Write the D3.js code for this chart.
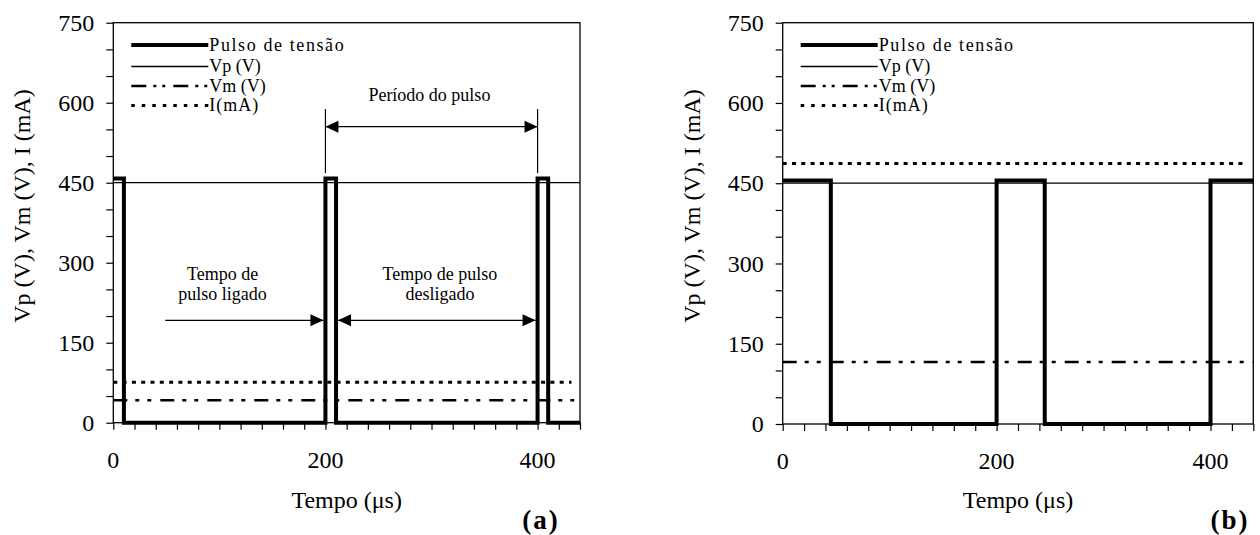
<!DOCTYPE html>
<html>
<head>
<meta charset="utf-8">
<script src="https://cdn.jsdelivr.net/npm/d3@7"></script>
<style>
  body { margin: 0; background: #fff; }
  svg { display: block; }
  text { font-family: "Liberation Serif", "Times New Roman", serif; fill: #000; }
</style>
</head>
<body>
<div id="chart"></div>
<script>
// pulse waveforms (time in us, voltage in V)
const timeA  = [0, 10, 10, 200, 200, 210, 210, 400, 400, 410, 410, 440];
const pulseA = [458, 458, 0, 0, 458, 458, 0, 0, 458, 458, 0, 0];
const timeB  = [0, 45, 45, 200, 200, 245, 245, 400, 400, 440];
const pulseB = [455, 455, 0, 0, 455, 455, 0, 0, 455, 455];

// constant measured levels
const levelTime = [0, 440];
const curTime = [0, 432];
const vpA = [450, 450];
const vmA = [42, 42];
const iA  = [76, 76];
const vpB = [450, 450];
const vmB = [116, 116];
const iB  = [487, 487];

const xTicks = [0, 200, 400];
const yTicks = [0, 150, 300, 450, 600, 750];
const legendLabels = ["Pulso de tensão", "Vp (V)", "Vm (V)", "I(mA)"];

const W = 1260, H = 535;
const svg = d3.select("#chart").append("svg").attr("width", W).attr("height", H);

// line styles: pulse, Vp, Vm, I
const styles = [
  { w: 4, dash: null },
  { w: 1.3, dash: null },
  { w: 2.5, dash: "14,8,4,8,4,9" },
  { w: 3, dash: "4,5.3" }
];

function drawPanel(p) {
  const x = d3.scaleLinear().domain([0, 440]).range([p.left, p.right]);
  const y = d3.scaleLinear().domain([0, 750]).range([p.bottom, p.top]);
  const g = svg.append("g");

  // minor ticks
  g.append("g").attr("transform", `translate(0,${p.bottom})`)
    .call(d3.axisBottom(x).tickValues(d3.range(0, 441, 20)).tickSize(7).tickFormat(""))
    .call(a => a.select(".domain").remove());
  g.append("g").attr("transform", `translate(${p.left},0)`)
    .call(d3.axisLeft(y).tickValues(d3.range(0, 751, 50)).tickSize(7).tickFormat(""))
    .call(a => a.select(".domain").remove());
  g.selectAll(".tick line").attr("stroke", "#000").attr("stroke-width", 1.2);

  // tick labels
  g.selectAll(".xl").data(xTicks).join("text")
    .attr("x", d => x(d)).attr("y", p.bottom + 45)
    .attr("text-anchor", "middle").attr("font-size", 24).text(d => d);
  g.selectAll(".yl").data(yTicks).join("text")
    .attr("x", p.left - 19).attr("y", d => y(d)).attr("dy", "0.34em")
    .attr("text-anchor", "end").attr("font-size", 24).text(d => d);

  // frame
  g.append("rect").attr("x", p.left).attr("y", p.top)
    .attr("width", p.right - p.left).attr("height", p.bottom - p.top)
    .attr("fill", "none").attr("stroke", "#000").attr("stroke-width", 1.3);

  const line = d3.line().x(d => x(d[0])).y(d => y(d[1]));
  const series = [
    d3.zip(p.time, p.pulse),
    d3.zip(levelTime, p.vp),
    d3.zip(levelTime, p.vm),
    d3.zip(curTime, p.cur)
  ];
  // draw levels first, pulse on top
  [3, 2, 1, 0].forEach(i => {
    g.append("path").attr("d", line(series[i]))
      .attr("fill", "none").attr("stroke", "#000")
      .attr("stroke-width", styles[i].w)
      .attr("stroke-dasharray", styles[i].dash)
      .attr("stroke-linejoin", "miter");
  });

  // legend
  const legY = [45, 66.5, 86, 105.5];
  legendLabels.forEach((lab, i) => {
    g.append("line")
      .attr("x1", p.left + 18).attr("x2", p.left + 95)
      .attr("y1", legY[i]).attr("y2", legY[i])
      .attr("stroke", "#000").attr("stroke-width", styles[i].w)
      .attr("stroke-dasharray", i === 3 ? "3.5,7" : i === 2 ? "15,7,3,6,3,8" : null);
    g.append("text")
      .attr("x", p.left + 96).attr("y", legY[i]).attr("dy", "0.33em")
      .attr("font-size", 18)
      .attr("letter-spacing", i === 0 ? "1.6px" : i === 3 ? "1px" : null)
      .text(lab);
  });

  // axis titles
  g.append("text")
    .attr("transform", `translate(${p.left - 83},206) rotate(-90)`)
    .attr("text-anchor", "middle").attr("font-size", 24)
    .text("Vp (V), Vm (V), I (mA)");
  g.append("text")
    .attr("x", (p.left + p.right) / 2).attr("y", 508)
    .attr("text-anchor", "middle").attr("font-size", 24)
    .text("Tempo (\u03bcs)");
  g.append("text")
    .attr("x", p.tagX).attr("y", 529)
    .attr("text-anchor", "middle").attr("font-size", 27).attr("font-weight", "bold")
    .attr("letter-spacing", "2px")
    .text(p.tag);

  return { g, x, y };
}

function arrowHead(g, xTip, yy, dir) {
  const L = 13, h = 6;
  g.append("path")
    .attr("d", `M${xTip},${yy} L${xTip - dir * L},${yy - h} L${xTip - dir * L},${yy + h} Z`)
    .attr("fill", "#000");
}

function dimArrow(g, x1, x2, yy, left, right) {
  g.append("line").attr("x1", x1).attr("x2", x2).attr("y1", yy).attr("y2", yy)
    .attr("stroke", "#000").attr("stroke-width", 1.3);
  if (left) arrowHead(g, x1, yy, -1);
  if (right) arrowHead(g, x2, yy, 1);
}

const pa = drawPanel({
  left: 113.3, right: 580, top: 22.7, bottom: 422.7,
  time: timeA, pulse: pulseA, vp: vpA, vm: vmA, cur: iA,
  tag: "(a)", tagX: 541
});
const pb = drawPanel({
  left: 782.7, right: 1253.3, top: 22.7, bottom: 424,
  time: timeB, pulse: pulseB, vp: vpB, vm: vmB, cur: iB,
  tag: "(b)", tagX: 1230
});

// annotations on panel (a)
{
  const { g, x, y } = pa;
  // pulse period
  [200, 400].forEach(t => {
    g.append("line").attr("x1", x(t)).attr("x2", x(t))
      .attr("y1", y(588)).attr("y2", y(468))
      .attr("stroke", "#000").attr("stroke-width", 1.2);
  });
  dimArrow(g, x(200), x(400), y(555), true, true);
  g.append("text").attr("x", x(298)).attr("y", y(604))
    .attr("text-anchor", "middle").attr("font-size", 18).text("Período do pulso");

  // pulse on time
  dimArrow(g, x(49), x(200) - 2, y(192), false, true);
  g.append("text").attr("x", x(103)).attr("y", 280)
    .attr("text-anchor", "middle").attr("font-size", 18).text("Tempo de");
  g.append("text").attr("x", x(103)).attr("y", 300)
    .attr("text-anchor", "middle").attr("font-size", 18).text("pulso ligado");

  // pulse off time
  dimArrow(g, x(210) + 2, x(400) - 2, y(192), true, true);
  g.append("text").attr("x", x(308)).attr("y", 280)
    .attr("text-anchor", "middle").attr("font-size", 18).text("Tempo de pulso");
  g.append("text").attr("x", x(308)).attr("y", 300)
    .attr("text-anchor", "middle").attr("font-size", 18).text("desligado");
}
</script>
</body>
</html>
